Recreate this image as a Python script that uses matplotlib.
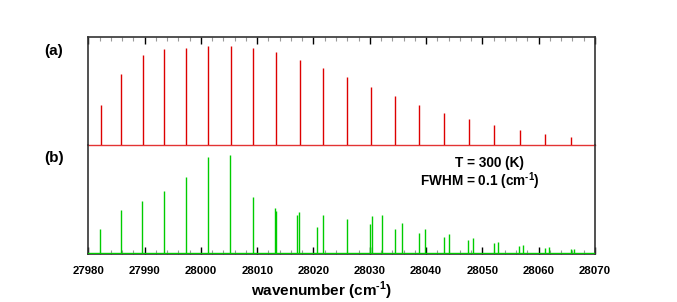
import matplotlib
matplotlib.use("Agg")
import matplotlib.pyplot as plt
from matplotlib.ticker import MultipleLocator

plt.rcParams['font.family'] = ['Liberation Sans', 'DejaVu Sans']
plt.rcParams['font.weight'] = 'bold'
plt.rcParams['mathtext.fontset'] = 'custom'
plt.rcParams['mathtext.rm'] = 'Liberation Sans:bold'
plt.rcParams['mathtext.bf'] = 'Liberation Sans:bold'

# (a) line positions (cm^-1) and relative intensities
pos_a = [27982.2, 27985.86, 27989.66, 27993.5, 27997.35, 28001.31, 28005.35,
         28009.31, 28013.34, 28017.55, 28021.63, 28025.9, 28030.16, 28034.48,
         28038.79, 28043.18, 28047.62, 28052.11, 28056.63, 28061.12, 28065.74]
int_a = [0.41, 0.72, 0.91, 0.97, 0.98, 1.0, 1.0, 0.98, 0.94, 0.86, 0.78, 0.69,
         0.59, 0.50, 0.41, 0.33, 0.27, 0.21, 0.155, 0.115, 0.085]

# (b) line positions (cm^-1) and relative intensities
pos_b = [27982.08, 27985.81, 27989.59, 27993.50, 27997.35, 28001.31, 28005.22,
         28009.25, 28013.11, 28013.34, 28017.02, 28017.48, 28020.57, 28021.69,
         28025.90, 28030.09, 28030.44, 28032.11, 28034.42, 28035.67, 28038.79,
         28039.75, 28043.13, 28044.01, 28047.50, 28048.38, 28052.06, 28052.72,
         28056.55, 28057.21, 28061.07, 28061.78, 28065.68, 28066.32]
int_b = [0.244, 0.437, 0.529, 0.628, 0.776, 0.974, 1.0, 0.567, 0.455, 0.430,
         0.387, 0.420, 0.268, 0.387, 0.343, 0.295, 0.376, 0.384, 0.247, 0.308,
         0.207, 0.247, 0.163, 0.193, 0.132, 0.150, 0.102, 0.112, 0.071, 0.081,
         0.051, 0.061, 0.038, 0.044]

xmin, xmax = 27980, 28070
xticks = [27980, 27990, 28000, 28010, 28020, 28030, 28040, 28050, 28060, 28070]

fig = plt.figure(figsize=(6.77, 3.02), dpi=100)
L = 88.3 / 677
W = (595 - 88.3) / 677
ax_a = fig.add_axes([L, 1 - 145.3 / 302, W, (145.3 - 36.7) / 302])
ax_b = fig.add_axes([L, 1 - 254 / 302, W, (254 - 145.3) / 302])

red = '#dd0000'
green = '#00cc00'
frame = '#333333'

# panel (a)
ax_a.vlines(pos_a, 0, int_a, color=red, lw=1.0)
ax_a.axhline(0, color=red, lw=1.0, clip_on=False, zorder=3, alpha=0.8)
ax_a.set_xlim(xmin, xmax)
ax_a.set_ylim(0, 108.6 / 99)
ax_a.spines['bottom'].set_visible(False)
for s in ['top', 'left', 'right']:
    ax_a.spines[s].set_color(frame)
    ax_a.spines[s].set_linewidth(1.2)
ax_a.set_yticks([])
ax_a.xaxis.set_major_locator(MultipleLocator(10))
ax_a.xaxis.set_minor_locator(MultipleLocator(2))
ax_a.tick_params(axis='x', which='both', direction='in', top=True, bottom=False,
                 labeltop=False, labelbottom=False)
ax_a.tick_params(axis='x', which='major', length=5, width=1.0, color='black')
ax_a.tick_params(axis='x', which='minor', length=3, width=0.8, color='#999999')
ax_a.patch.set_alpha(0)

# panel (b)
ax_b.vlines(pos_b, 0, int_b, color=green, lw=1.0)
ax_b.axhline(0, color=green, lw=1.0, zorder=3)
ax_b.set_xlim(xmin, xmax)
ax_b.set_ylim(-1 / 98.3, 107.7 / 98.3)
ax_b.spines['top'].set_visible(False)
for s in ['bottom', 'left', 'right']:
    ax_b.spines[s].set_color(frame)
    ax_b.spines[s].set_linewidth(1.2)
ax_b.set_yticks([])
ax_b.set_xticks(xticks)
ax_b.set_xticklabels([str(t) for t in xticks], fontsize=8.2, fontweight='bold')
ax_b.xaxis.set_minor_locator(MultipleLocator(2))
ax_b.tick_params(axis='x', which='both', direction='in', top=False, bottom=True)
ax_b.tick_params(axis='x', which='major', length=5, width=1.0, color='black', pad=9)
ax_b.tick_params(axis='x', which='minor', length=3, width=0.8, color='#999999')
ax_b.patch.set_alpha(0)

fig.text(322 / 677, 1 - 291 / 302, r'wavenumber (cm$^{\text{-1}}$)', ha='center', va='center',
         fontsize=11, fontweight='bold')
fig.text(54 / 677, 1 - 51 / 302, '(a)', ha='center', va='center', fontsize=11, fontweight='bold')
fig.text(54 / 677, 1 - 158 / 302, '(b)', ha='center', va='center', fontsize=11, fontweight='bold')
fig.text(489.7 / 677, 1 - 163.5 / 302, 'T = 300 (K)', ha='center', va='center',
         fontsize=9.8, fontweight='bold')
fig.text(479.7 / 677, 1 - 181 / 302, r'FWHM = 0.1 (cm$^{\text{-1}}$)', ha='center', va='center',
         fontsize=9.8, fontweight='bold')

fig.savefig('out.png', dpi=100)
